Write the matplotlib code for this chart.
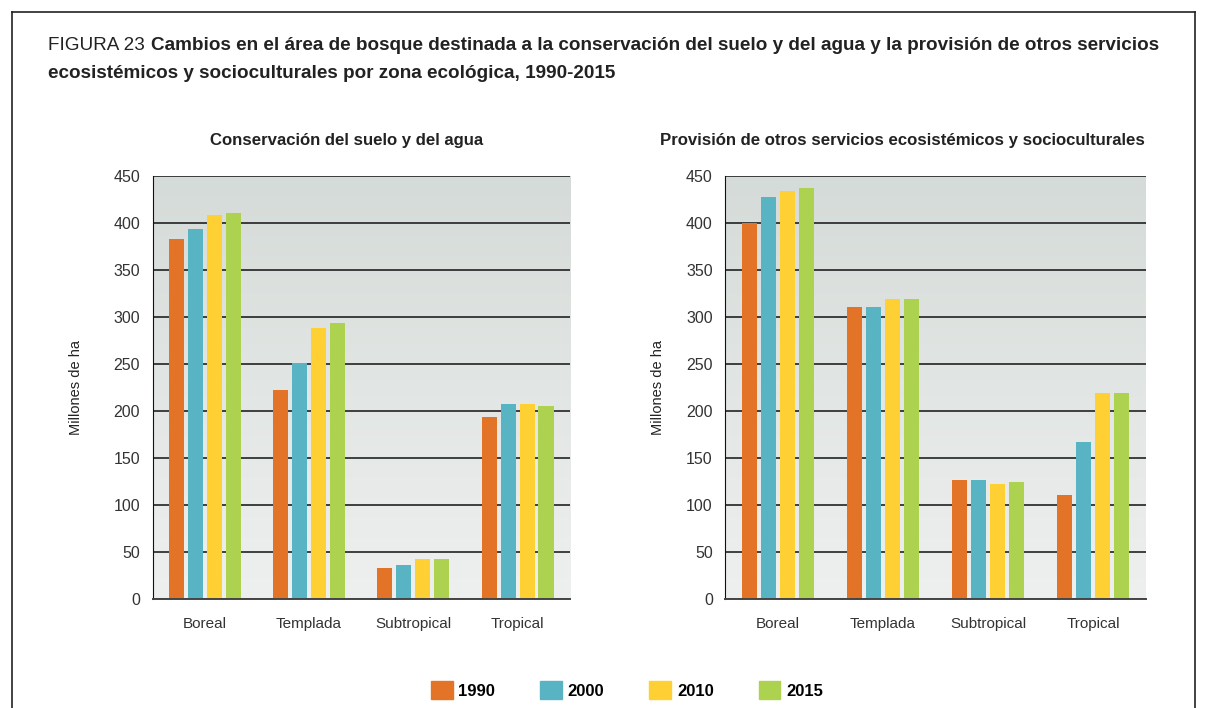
import numpy as np
import matplotlib
matplotlib.use("Agg")
import matplotlib.pyplot as plt
from matplotlib.lines import Line2D
from matplotlib.patches import Patch

plt.rcParams['font.family'] = ['Liberation Sans', 'DejaVu Sans']

zonas = ['Boreal', 'Templada', 'Subtropical', 'Tropical']
anios = ['1990', '2000', '2010', '2015']
colores = ['#e37326', '#58b4c3', '#ffd033', '#add250']

# Conservación del suelo y del agua (millones de ha)
suelo_agua = {
    '1990': [383, 222, 33, 194],
    '2000': [394, 251, 36, 207],
    '2010': [408, 288, 42, 207],
    '2015': [411, 294, 42, 205],
}
# Provisión de otros servicios ecosistémicos y socioculturales
otros_servicios = {
    '1990': [400, 311, 127, 111],
    '2000': [428, 311, 127, 167],
    '2010': [434, 319, 122, 219],
    '2015': [437, 319, 124, 219],
}
yticks = list(range(0, 451, 50))

W, H = 1207, 708
fig = plt.figure(figsize=(W / 100, H / 100), dpi=100)

# marco de la figura
for xs, ys in [([0.010, 0.010], [0.0, 0.983]), ([0.010, 0.990], [0.983, 0.983]),
               ([0.990, 0.990], [0.983, 0.0])]:
    fig.add_artist(Line2D(xs, ys, transform=fig.transFigure, color='#222222', lw=1.2))

# título: se ajusta el tamaño para que la primera línea ocupe el ancho del original
renderer = fig.canvas.get_renderer()
t0 = fig.text(48 / W, 1 - 45 / H, 'FIGURA 23', fontsize=15, color='#222222',
              ha='left', va='center')
t1 = fig.text(0, 1 - 45 / H,
              'Cambios en el área de bosque destinada a la conservación del suelo y del agua y la provisión de otros servicios',
              fontsize=15, fontweight='bold', color='#222222', ha='left', va='center')
w0 = t0.get_window_extent(renderer).width
w1 = t1.get_window_extent(renderer).width
escala = (1163 - 48 - 6) / (w0 + w1)
t0.set_fontsize(15 * escala)
t1.set_fontsize(15 * escala)
t1.set_x((48 + w0 * escala + 6) / W)
fig.text(48 / W, 1 - 73 / H, 'ecosistémicos y socioculturales por zona ecológica, 1990-2015',
         fontsize=15 * escala, fontweight='bold', color='#222222', ha='left', va='center')

gradiente = np.linspace(0, 1, 256).reshape(-1, 1)
cmap_fondo = matplotlib.colors.LinearSegmentedColormap.from_list('fondo', ['#eef0ef', '#d5dbd8'])

paneles = [
    ([0.1265, 0.1540, 0.3455, 0.5975], suelo_agua, 'Conservación del suelo y del agua',
     346.5 / W, 12.1, 22),
    ([0.6009, 0.1540, 0.3483, 0.5975], otros_servicios,
     'Provisión de otros servicios ecosistémicos y socioculturales', 902.5 / W, 12.1, 15),
]

x = np.arange(len(zonas))
ancho = 0.145
paso = 0.182

for pos, datos, titulo, xt, ft, lp in paneles:
    ax = fig.add_axes(pos)
    ax.imshow(gradiente, extent=[0, 1, 0, 1], transform=ax.transAxes, cmap=cmap_fondo,
              aspect='auto', zorder=0, origin='lower')
    for i, a in enumerate(anios):
        ax.bar(x + (i - 1.5) * paso, datos[a], width=ancho, color=colores[i], zorder=3)
    ax.set_xlim(-0.5, 3.5)
    ax.set_ylim(0, 450)
    ax.set_yticks(yticks)
    ax.set_xticks(x)
    ax.set_xticklabels(zonas)
    ax.yaxis.grid(True, color='#111111', lw=1.1)
    ax.set_axisbelow(False)
    for g in ax.get_ygridlines():
        g.set_zorder(2)
    ax.tick_params(length=0, labelsize=11.5, colors='#333333', pad=9)
    ax.tick_params(axis='x', labelsize=11, pad=13)
    for s in ['top', 'right']:
        ax.spines[s].set_visible(False)
    ax.spines['left'].set_color('#111111')
    ax.spines['bottom'].set_color('#444444')
    ax.spines['bottom'].set_linewidth(1.4)
    ax.spines['bottom'].set_zorder(4)
    ax.set_ylabel('Millones de ha', fontsize=10.5, color='#222222', labelpad=lp)
    fig.text(xt, 1 - 140 / H, titulo, fontsize=ft, fontweight='bold', color='#222222',
             ha='center', va='center')

handles = [Patch(color=c, label=a) for c, a in zip(colores, anios)]
fig.legend(handles=handles, loc='center', bbox_to_anchor=(627 / W, 1 - 690 / H), ncol=4,
           frameon=False, handlelength=1.3, handleheight=1.3, columnspacing=2.7,
           handletextpad=0.35, prop={'size': 12, 'weight': 'bold'})

fig.savefig('out.png', dpi=100)
